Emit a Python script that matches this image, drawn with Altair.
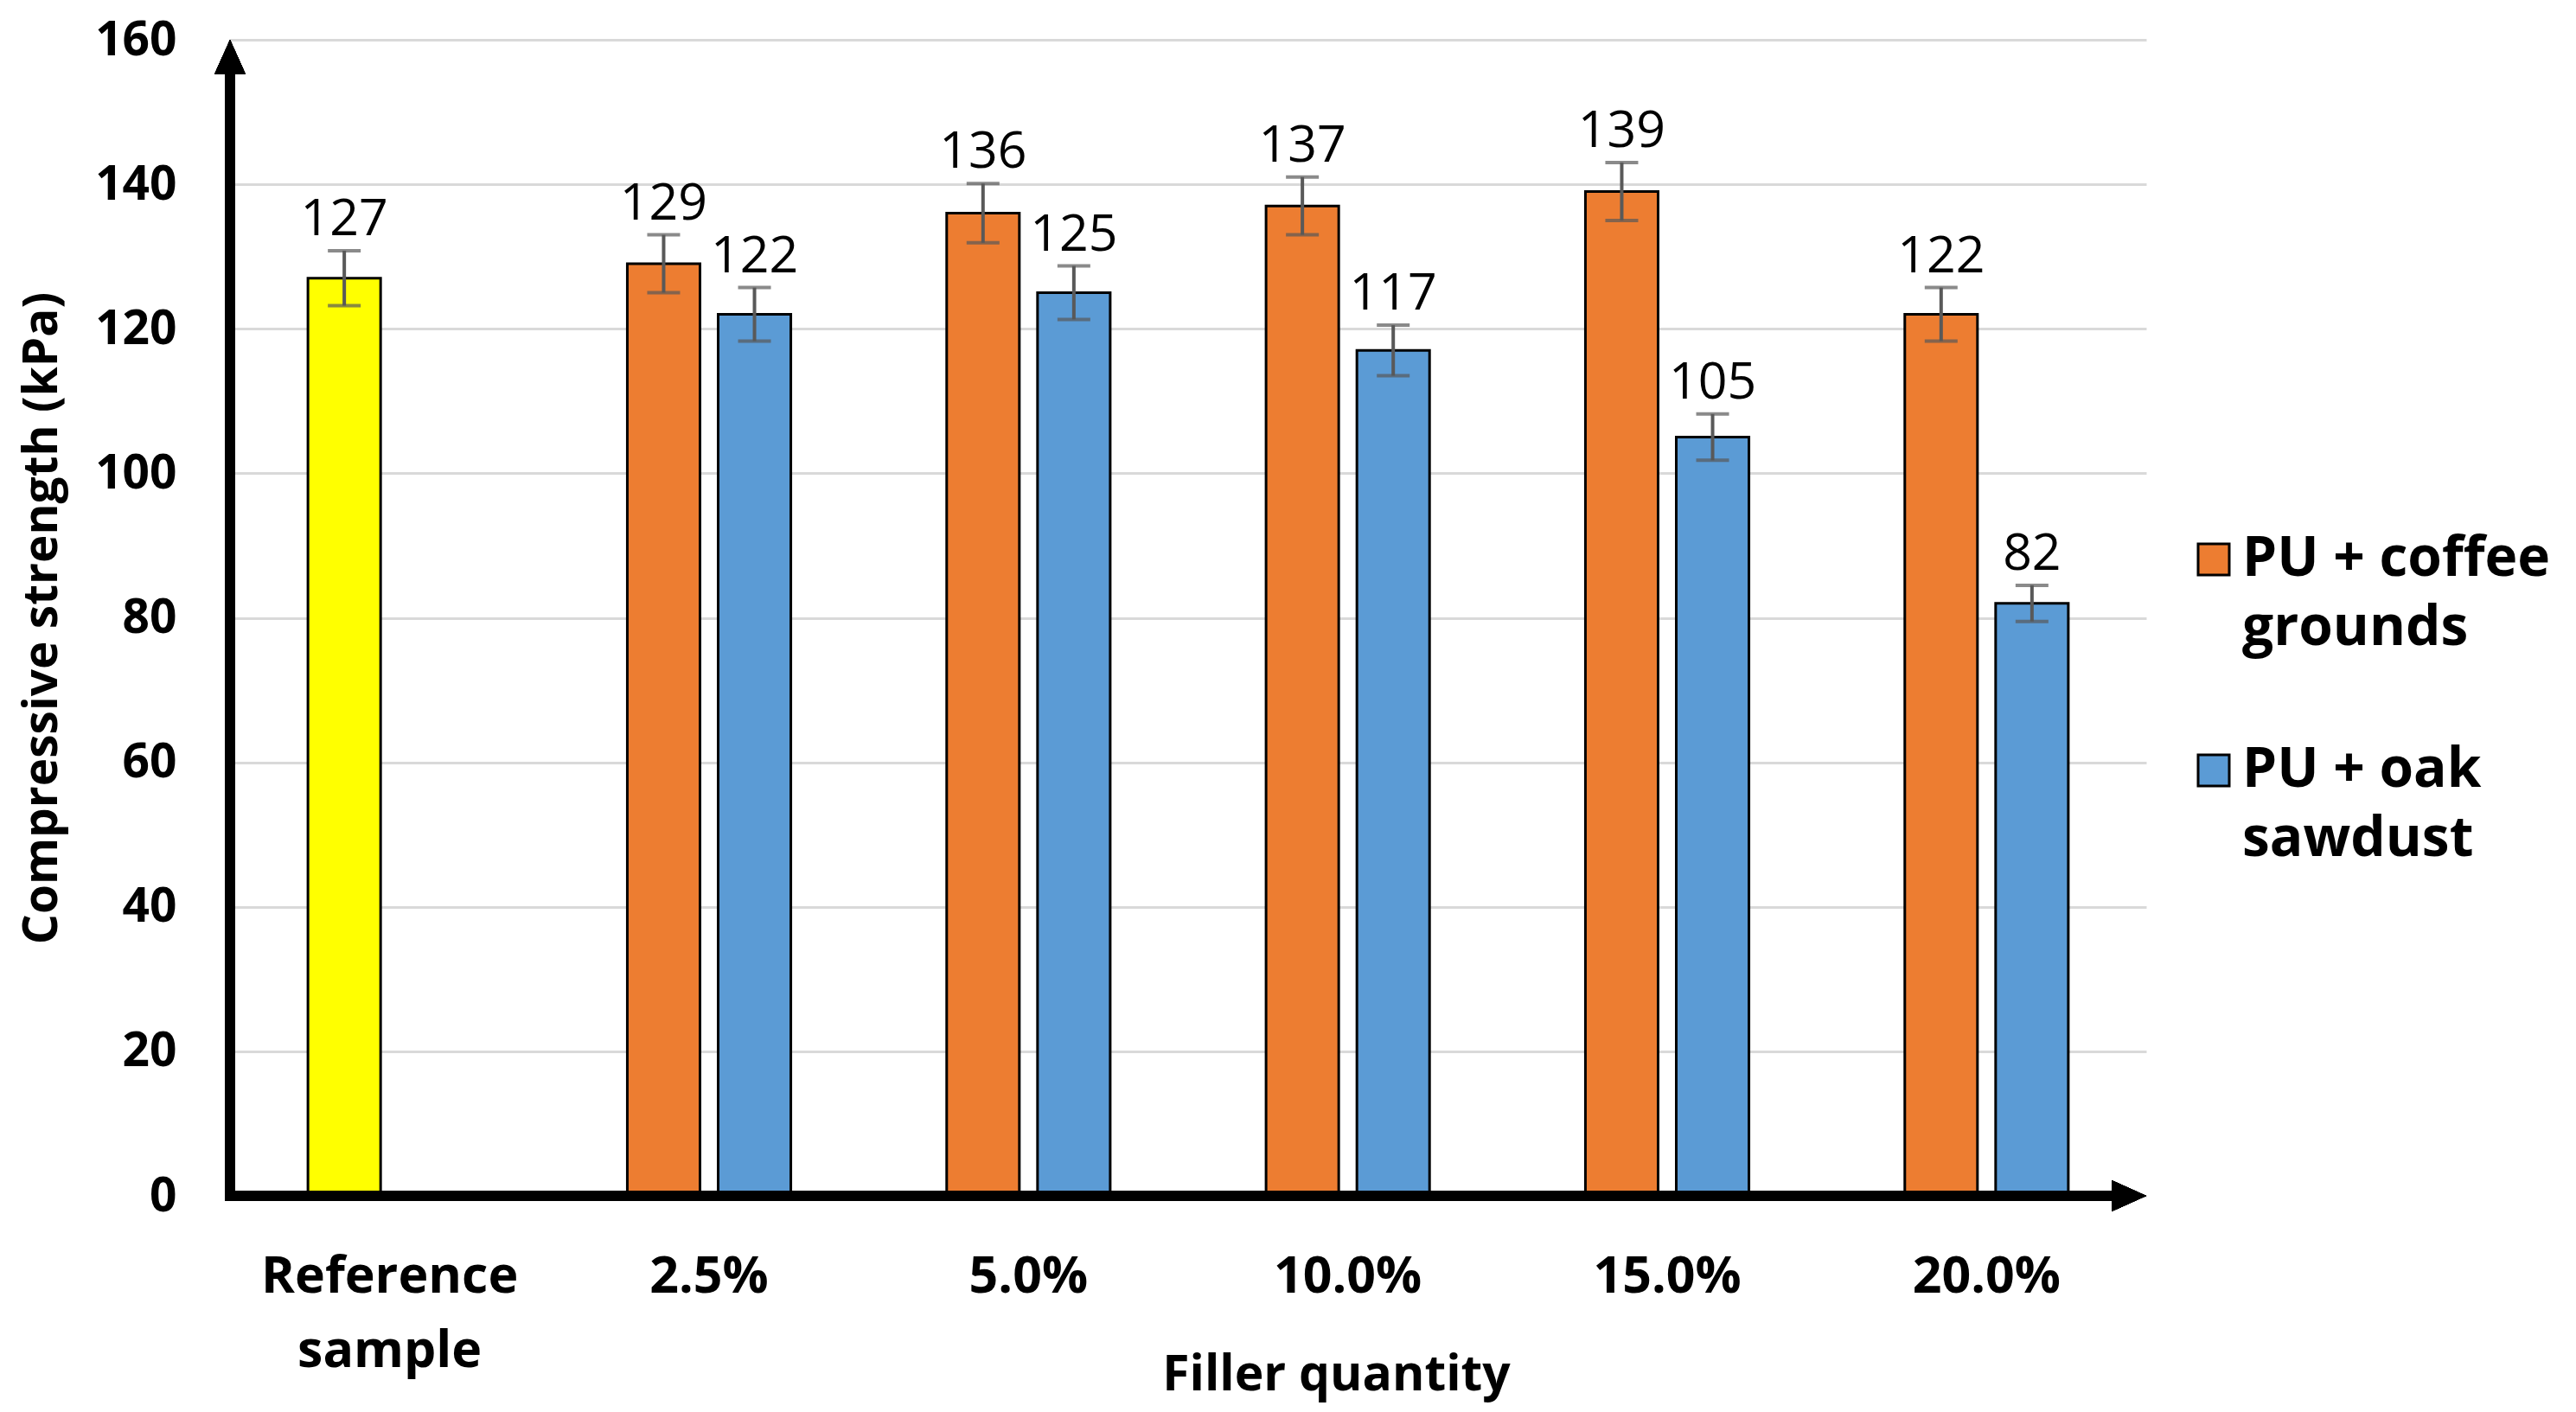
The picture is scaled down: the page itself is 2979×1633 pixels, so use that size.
import altair as alt
import pandas as pd

categories = ["Reference sample", "2.5%", "5.0%", "10.0%", "15.0%", "20.0%"]
series_names = ["PU + coffee grounds", "PU + oak sawdust", "Reference sample"]
ref_value = 127
ref_err = 3.8
coffee_values = [129, 136, 137, 139, 122]
coffee_err = [4.0, 4.1, 4.0, 4.0, 3.7]
oak_values = [122, 125, 117, 105, 82]
oak_err = [3.7, 3.7, 3.5, 3.2, 2.5]
y_ticks = [0, 20, 40, 60, 80, 100, 120, 140, 160]

rows = [dict(category=categories[0], series=series_names[2], slot=0, value=ref_value, err=ref_err)]
for i, cat in enumerate(categories[1:]):
    rows.append(dict(category=cat, series=series_names[0], slot=0, value=coffee_values[i], err=coffee_err[i]))
    rows.append(dict(category=cat, series=series_names[1], slot=1, value=oak_values[i], err=oak_err[i]))
df = pd.DataFrame(rows)
df["lo"] = df["value"] - df["err"]
df["hi"] = df["value"] + df["err"]

W, H = 2216, 1337
FONT = "Open Sans"

x_enc = alt.X("category:N", sort=categories,
              scale=alt.Scale(paddingInner=0.488, paddingOuter=0.244),
              axis=alt.Axis(title="Filler quantity", domain=False, ticks=False,
                            labelAngle=0, labelFont=FONT, labelFontWeight="bold",
                            labelFontSize=59, labelColor="black", labelPadding=64,
                            labelLineHeight=86, labelLimit=500,
                            labelExpr="datum.value == 'Reference sample' ? ['Reference', 'sample'] : datum.label",
                            titleFont=FONT, titleFontWeight="bold", titleFontSize=57,
                            titleColor="black", titleX=1279, titleY=224, titleAlign="center",
                            titleBaseline="alphabetic"))
xo_enc = alt.XOffset("slot:N", scale=alt.Scale(domain=[0, 1], paddingInner=0.2, paddingOuter=0))
y_scale = alt.Scale(domain=[0, 160], nice=False)

base = alt.Chart(df)

bars = base.mark_bar(stroke="black", strokeWidth=3).encode(
    x=x_enc,
    xOffset=xo_enc,
    y=alt.Y("value:Q", scale=y_scale,
            axis=alt.Axis(title="Compressive strength (kPa)", values=y_ticks, domain=False,
                          ticks=False, grid=True, gridColor="#d9d9d9", gridWidth=3,
                          labelFont=FONT, labelFontWeight="bold", labelFontSize=55,
                          labelColor="black", labelPadding=62,
                          titleFont=FONT, titleFontWeight="bold", titleFontSize=55,
                          titleColor="black", titleX=-218, titleBaseline="middle")),
    color=alt.Color("series:N",
                    scale=alt.Scale(domain=series_names, range=["#ED7D31", "#5B9BD5", "#FFFF00"]),
                    legend=alt.Legend(values=series_names[:2], title=None, orient="none",
                                      legendX=2262, legendY=569,
                                      labelFont=FONT, labelFontWeight="bold", labelFontSize=64,
                                      labelColor="black", labelLimit=700, labelOffset=1,
                                      labelExpr="datum.label == 'PU + coffee grounds' ? ['PU + coffee', 'grounds'] : ['PU + oak', 'sawdust']",
                                      symbolType="square",
                                      symbolSize=1296, symbolStrokeColor="black",
                                      symbolStrokeWidth=3, rowPadding=100)),
)

err_rule = base.mark_rule(color="#595959", strokeWidth=4).encode(
    x=alt.X("category:N", sort=categories), xOffset=xo_enc,
    y=alt.Y("lo:Q", scale=y_scale), y2="hi:Q")

cap_hi = base.mark_tick(color="#595959", thickness=4, size=38).encode(
    x=alt.X("category:N", sort=categories), xOffset=xo_enc,
    y=alt.Y("hi:Q", scale=y_scale))
cap_lo = base.mark_tick(color="#595959", thickness=4, size=38).encode(
    x=alt.X("category:N", sort=categories), xOffset=xo_enc,
    y=alt.Y("lo:Q", scale=y_scale))

labels = base.mark_text(font=FONT, fontSize=59, baseline="bottom", dy=-6, color="black").encode(
    x=alt.X("category:N", sort=categories), xOffset=xo_enc,
    y=alt.Y("hi:Q", scale=y_scale), text="value:Q")

y_line = alt.Chart(df).mark_rule(color="black", strokeWidth=11).encode(
    x=alt.value(0), y=alt.value(38), y2=alt.value(H + 6))
x_line = alt.Chart(df).mark_rule(color="black", strokeWidth=11).encode(
    x=alt.value(-5), x2=alt.value(W - 38), y=alt.value(H))
y_arrow = alt.Chart(df).mark_point(shape="M0,0L0.9,2L-0.9,2Z", size=1600, filled=True,
                                   color="black", opacity=1).encode(
    x=alt.value(0), y=alt.value(0))
x_arrow = alt.Chart(df).mark_point(shape="M0,0L-2,-0.9L-2,0.9Z", size=1600, filled=True,
                                   color="black", opacity=1).encode(
    x=alt.value(W), y=alt.value(H))

chart = alt.layer(bars, err_rule, cap_hi, cap_lo, labels, y_line, x_line, y_arrow, x_arrow).properties(
    width=W, height=H,
    autosize=alt.AutoSizeParams(type="none"),
    padding={"left": 258, "top": 38, "right": 488, "bottom": 242},
    background="white",
).configure(
    style={"guide-label": {"lineHeight": 80}}
).configure_view(strokeWidth=0, stroke="transparent")

chart.save("out.html", embed_options={"renderer": "svg", "actions": False})
